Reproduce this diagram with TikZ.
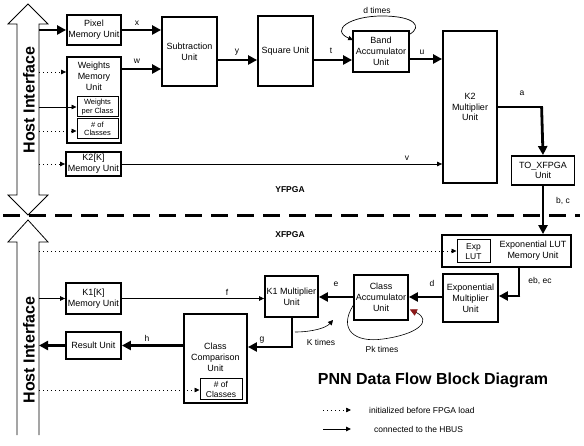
\documentclass[tikz,border=0pt]{standalone}
\usepackage{fontspec}
\setmainfont{Liberation Sans}
\usetikzlibrary{arrows.meta}
\begin{document}
\begin{tikzpicture}[x=1pt,y=-1pt,
  box/.style={draw, line width=1.8pt, inner sep=0pt, align=center, font=\fontsize{9}{10.8}\selectfont},
  sbox/.style={draw, line width=1pt, inner sep=0pt, align=center, font=\fontsize{7.5}{8.3}\selectfont},
  txt/.style={inner sep=0pt, align=center, font=\fontsize{9}{11}\selectfont},
  lab/.style={inner sep=0pt, font=\fontsize{8.5}{9.5}\selectfont},
  hostline/.style={line width=0.8pt},
  hosttext/.style={inner sep=0pt, font=\fontsize{16}{18}\bfseries\selectfont},
  thk/.style={line width=2.8pt, -{Triangle[length=9pt,width=9pt]}},
  thkp/.style={line width=2.8pt},
  thn/.style={line width=0.7pt, -{Triangle[length=5pt,width=4.5pt]}},
  dotl/.style={line width=0.7pt, dash pattern=on 0.8pt off 3.2pt, -{Triangle[length=5pt,width=4.5pt]}}
]
\useasboundingbox[fill=white] (0,0) rectangle (584,446);

% host interface arrows
\draw[hostline, fill=white] (28,4) -- (48,24) -- (39,24) -- (39,195) -- (48,195) -- (28,215) -- (8,195) -- (17,195) -- (17,24) -- (8,24) -- cycle;
\fill[white] (28,220) -- (48,242) -- (39,242) -- (39,435) -- (17,435) -- (17,242) -- (8,242) -- cycle;
\draw[hostline] (17,435) -- (17,242) -- (8,242) -- (28,220) -- (48,242) -- (39,242) -- (39,435);
\node[hosttext, rotate=90] (hi1) at (29,100) {Host Interface};
\node[hosttext, rotate=90] (hi2) at (29,350) {Host Interface};

% separator
\coordinate (sepL) at (3,216);
\coordinate (sepR) at (580,216);
\draw[line width=3pt, dash pattern=on 17pt off 9pt] (sepL) -- (sepR);

\node[inner sep=0pt, font=\fontsize{8.5}{9}\bfseries\selectfont] (yf) at (290,190) {YFPGA};
\node[inner sep=0pt, font=\fontsize{8.5}{9}\bfseries\selectfont] (xf) at (290,235) {XFPGA};

% upper blocks
\node[box, minimum width=54pt, minimum height=30pt] (pix) at (94,30) {Pixel\\Memory Unit};
\node[box, minimum width=54pt, minimum height=86pt] (wmu) at (94,100) {};
\node[txt] (wmut) at (94,76.5) {Weights\\Memory\\Unit};
\node[sbox, minimum width=41pt, minimum height=20pt] (wpc) at (97.5,107) {Weights\\per Class};
\node[sbox, minimum width=41pt, minimum height=20pt] (ncl) at (97.5,129) {\# of\\Classes};
\node[box, minimum width=55pt, minimum height=69pt] (sub) at (189.5,51.5) {Subtraction\\Unit};
\node[box, minimum width=55pt, minimum height=70pt] (sq) at (285.5,51) {Square Unit};
\node[box, minimum width=56pt, minimum height=41pt] (band) at (381,51.5) {Band\\Accumulator\\Unit};
\node[box, minimum width=54pt, minimum height=152pt] (k2) at (470,107) {K2\\Multiplier\\Unit};
\node[box, minimum width=63pt, minimum height=29pt] (tox) at (543,170.5) {TO\_XFPGA\\Unit};
\node[box, minimum width=55pt, minimum height=24pt] (k2k) at (93.5,164) {K2[K]\\Memory Unit};

% lower blocks
\node[box, minimum width=129pt, minimum height=32pt] (exl) at (506.5,251) {};
\node[sbox, font=\fontsize{8.5}{9.8}\selectfont, minimum width=33pt, minimum height=23pt] (expl) at (473.5,251.5) {Exp\\LUT};
\node[txt] (exlt) at (533,250.5) {Exponential LUT\\Memory Unit};
\node[box, minimum width=55pt, minimum height=48pt] (em) at (470.5,298) {Exponential\\Multiplier\\Unit};
\node[box, minimum width=54pt, minimum height=45pt] (ca) at (381,297.5) {Class\\Accumulator\\Unit};
\node[box, minimum width=53pt, minimum height=41pt] (k1) at (291.5,296.5) {K1 Multiplier\\Unit};
\node[box, minimum width=55pt, minimum height=31pt] (k1k) at (93.5,298.5) {K1[K]\\Memory Unit};
\node[box, minimum width=63pt, minimum height=89pt] (cc) at (215.5,358.5) {};
\node[txt] (cct) at (215.5,357) {Class\\Comparison\\Unit};
\node[sbox, font=\fontsize{8.5}{9.8}\selectfont, minimum width=42pt, minimum height=21pt] (ccn) at (221,389.5) {\# of\\Classes};
\node[box, minimum width=55pt, minimum height=27pt] (res) at (93.5,345.5) {Result Unit};

% host coordinates
\coordinate (h1) at (39,30);
\coordinate (h2) at (39,72);
\coordinate (h3) at (39,107);
\coordinate (h4) at (39,131);
\coordinate (h5) at (39,164);
\coordinate (h6) at (39,251);
\coordinate (h7) at (39,298.5);
\coordinate (h8) at (39,345.5);
\coordinate (h9) at (39,390);

% upper connectors
\draw[thk] (h1) -- (h1 -| pix.west);
\draw[dotl] (h2) -- (h2 -| wmu.west);
\draw[thn] (h3) -- (h3 -| wpc.west);
\draw[dotl] (h4) -- (h4 -| ncl.west);
\draw[dotl] (h5) -- (h5 -| k2k.west);
\draw[thk] (pix.east) -- (pix.east -| sub.west);
\coordinate (wout) at (121,69);
\draw[thk] (wout -| wmu.east) -- (wout -| sub.west);
\coordinate (yrow) at (0,60);
\draw[thk] (yrow -| sub.east) -- (yrow -| sq.west);
\draw[thk] (yrow -| sq.east) -- (yrow -| band.west);
\coordinate (urow) at (0,59);
\draw[thk] (urow -| band.east) -- (urow -| k2.west);
\draw[thn] (k2k.east) -- (k2k.east -| k2.west);
\draw[thkp] (k2.east) -- (k2.east -| tox.north);
\draw[thk] ([xshift=-1.4pt]k2.east -| tox.north) -- (tox.north);
\draw[thk] (tox.south) -- (tox.south |- exl.north);
\draw[thn] (band.north east) ++(0,4) .. controls (422,27) and (416,16) .. (382,16) .. controls (350,16) and (330,30) .. ([shift={(1,10)}]band.north west);

% lower connectors
\draw[dotl] (h6) -- (h6 -| expl.west);
\coordinate (ebx) at (519,296);
\draw[thkp] (ebx |- exl.south) -- (ebx);
\draw[thk] ([xshift=1.4pt]ebx) -- (ebx -| em.east);
\coordinate (drow) at (0,297);
\draw[thk] (drow -| em.west) -- (drow -| ca.east);
\draw[thk] (drow -| ca.west) -- (drow -| k1.east);
\draw[thn] (h7) -- (h7 -| k1k.west);
\draw[thn] (k1k.east) -- (k1k.east -| k1.west);
\coordinate (gc) at (292,347);
\draw[thkp] (gc |- k1.south) -- (gc);
\draw[thk] ([xshift=1.4pt]gc) -- (gc -| cc.east);
\coordinate (hrow) at (0,345.5);
\draw[thk] (hrow -| cc.west) -- (hrow -| res.east);
\draw[thk] (res.west) -- (h8);
\draw[dotl] (h9) -- (h9 -| ccn.west);
\draw[line width=0.6pt, -{Triangle[length=5pt,width=5pt]}] (295,332) .. controls (312,332) and (326,328) .. (333,320);
\draw[line width=0.6pt, -{Triangle[length=7pt,width=7pt, fill={rgb,255:red,139;green,26;blue,26}, color={rgb,255:red,139;green,26;blue,26}]}] ([yshift=-8pt]ca.west) .. controls (338,330) and (355,343) .. (383,339) .. controls (420,334) and (432,320) .. ([shift={(1,12)}]ca.east);

% labels
\node[lab] (lx) at (137,23) {x};
\node[lab] (lw) at (137,61) {w};
\node[lab] (ly) at (237,52) {y};
\node[lab] (lt) at (331,51) {t};
\node[lab] (lu) at (422,52) {u};
\node[lab] (la) at (522,93) {a};
\node[lab] (lv) at (407,158) {v};
\node[lab] (lbc) at (563,201) {b, c};
\node[lab] (lebec) at (540,281) {eb, ec};
\node[lab] (ld) at (432,283) {d};
\node[lab] (le) at (336,284) {e};
\node[lab] (lf) at (227,292) {f};
\node[lab] (lg) at (262,340) {g};
\node[lab] (lh) at (147,338) {h};
\node[lab] (ldt) at (377,10) {d times};
\node[lab] (lkt) at (321,342) {K times};
\node[lab] (lpk) at (382,349) {Pk times};

% title and legend
\node[inner sep=0pt, font=\fontsize{16}{18}\bfseries\selectfont] (title) at (433,380) {PNN Data Flow Block Diagram};
\coordinate (lg1a) at (323,410);
\coordinate (lg1b) at (351,410);
\coordinate (lg2a) at (323,429);
\coordinate (lg2b) at (351,429);
\draw[dotl] (lg1a) -- (lg1b);
\draw[line width=1pt, -{Triangle[length=5pt,width=4.5pt]}] (lg2a) -- (lg2b);
\node[lab, anchor=west] (lt1) at (369,410) {initialized before FPGA load};
\node[lab, anchor=west] (lt2) at (374,429) {connected to the HBUS};
\end{tikzpicture}
\end{document}
